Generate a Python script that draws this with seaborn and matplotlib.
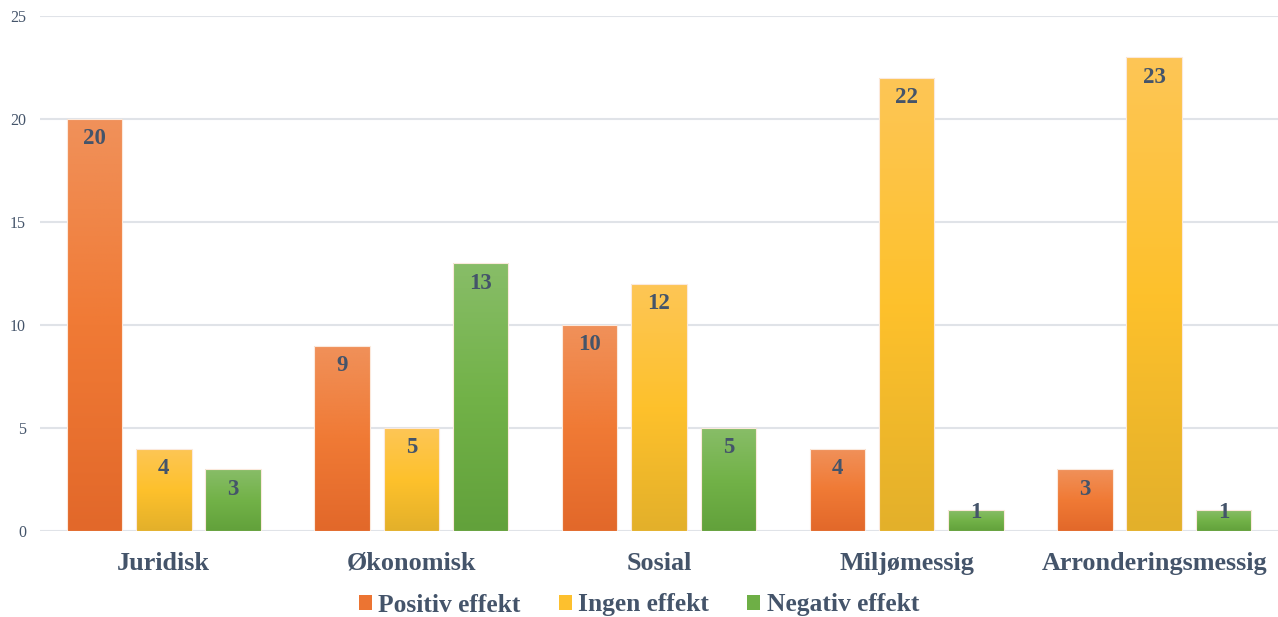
import numpy as np
import pandas as pd
import seaborn as sns
import matplotlib.pyplot as plt
from matplotlib.colors import LinearSegmentedColormap
from matplotlib.patches import Patch

categories = ["Juridisk", "Økonomisk", "Sosial", "Miljømessig", "Arronderingsmessig"]
series = ["Positiv effekt", "Ingen effekt", "Negativ effekt"]
positiv = [20, 9, 10, 4, 3]
ingen = [4, 5, 12, 22, 23]
negativ = [3, 13, 5, 1, 1]

colors = ["#EC7432", "#FDC02E", "#6EAF46"]
gradients = [
    ["#F0915A", "#F07A35", "#E2682A"],
    ["#FDC656", "#FEC12C", "#E3B02A"],
    ["#88BD68", "#72B248", "#62A13B"],
]
text_color = "#44546A"

df = pd.DataFrame({
    "kategori": categories * 3,
    "serie": [series[0]] * 5 + [series[1]] * 5 + [series[2]] * 5,
    "antall": positiv + ingen + negativ,
})

sns.set_style("white")
plt.rcParams["font.family"] = ["Liberation Serif", "DejaVu Serif"]

fig = plt.figure(figsize=(12.78, 6.17), dpi=100)
ax = fig.add_axes([40 / 1278, 1 - 531 / 617, 1 - 40 / 1278, (531 - 16) / 617])

sns.barplot(data=df, x="kategori", y="antall", hue="serie", order=categories,
            hue_order=series, palette=colors, width=0.84, gap=0.2,
            edgecolor="#FBE9DC", linewidth=0.8, legend=False, ax=ax, zorder=3)

ax.set_ylim(0, 25)
ax.set_xlim(-0.5, 4.5)
ax.set_yticks([0, 5, 10, 15, 20, 25])
ax.yaxis.grid(True, color="#E0E3E8", linewidth=1.5, zorder=0)
ax.set_axisbelow(True)
for s in ax.spines.values():
    s.set_visible(False)
ax.set_xlabel("")
ax.set_ylabel("")
ax.tick_params(axis="y", length=0, labelsize=11.5, labelcolor=text_color, pad=10)
ax.tick_params(axis="x", length=0, pad=15)
for lbl in ax.get_xticklabels():
    lbl.set_fontsize(18.8)
    lbl.set_fontweight("bold")
    lbl.set_color(text_color)

# gradient fill + value labels
for i, cont in enumerate(ax.containers):
    cmap = LinearSegmentedColormap.from_list("g%d" % i, gradients[i][::-1])
    grad = np.linspace(0, 1, 256).reshape(-1, 1)
    for bar, val in zip(cont, [positiv, ingen, negativ][i]):
        x0, y0 = bar.get_x(), bar.get_y()
        w, h = bar.get_width(), bar.get_height()
        im = ax.imshow(grad, cmap=cmap, origin="lower", aspect="auto",
                       extent=[x0, x0 + w, y0, y0 + h], zorder=3)
        im.set_clip_path(bar)
        bar.set_facecolor("none")
        bar.set_zorder(4)
        ax.text(x0 + w / 2, max(y0 + h - 0.97, 0.88), str(val), ha="center",
                va="center", fontsize=16.5, fontweight="bold", color=text_color,
                zorder=5)
ax.set_xlim(-0.5, 4.5)
ax.set_ylim(0, 25)

handles = [Patch(facecolor=c, edgecolor="none") for c in colors]
fig.legend(handles, series, loc="center", bbox_to_anchor=(0.5, 1 - 605 / 617),
           ncol=3, frameon=False, handlelength=0.5, handleheight=0.5,
           handletextpad=0.25, columnspacing=1.5,
           prop={"size": 18.4, "weight": "bold"}, labelcolor=text_color)

fig.savefig("out.png", dpi=100)
